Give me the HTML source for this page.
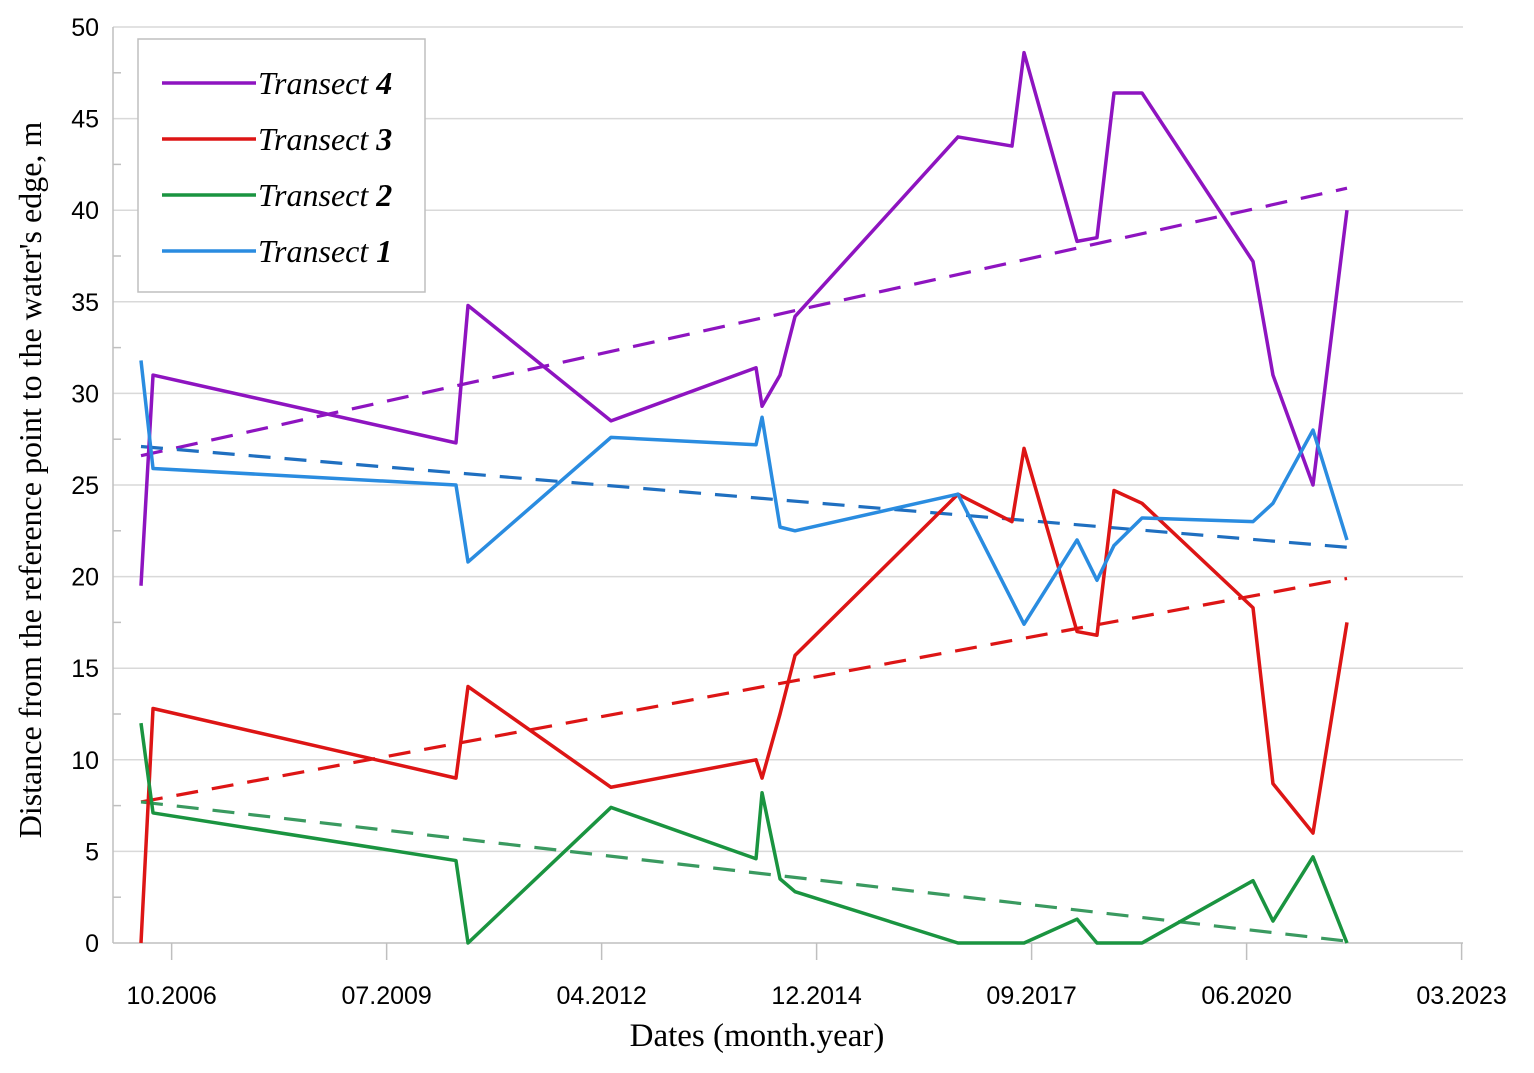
<!DOCTYPE html>
<html><head><meta charset="utf-8"><style>
body{margin:0;background:#fff}
svg text{font-family:"Liberation Sans",sans-serif}
</style></head><body>
<svg id="c" width="1534" height="1068" xmlns="http://www.w3.org/2000/svg"></svg>
<script>
const dates=[2006.358,2006.512,2010.387,2010.541,2012.370,2014.225,2014.302,2014.532,2014.724,2016.808,2017.499,2017.653,2018.331,2018.586,2018.804,2019.162,2020.582,2020.837,2021.349,2021.784];
const t4=[19.5,31,27.3,34.8,28.5,31.4,29.3,31,34.2,44,43.5,48.6,38.3,38.5,46.4,46.4,37.2,31,25,40];
const t3=[0,12.8,9,14,8.5,10,9,12.5,15.7,24.5,23,27,17,16.8,24.7,24,18.3,8.7,6,17.5];
const t2=[12,7.1,4.5,0,7.4,4.6,8.2,3.5,2.8,0,0,0,1.3,0,0,0,3.4,1.2,4.7,0];
const t1=[31.8,25.9,25,20.8,27.6,27.2,28.7,22.7,22.5,24.5,18.7,17.4,22,19.8,21.7,23.2,23,24,28,22];
const trendStart=[26.6,7.7,7.7,27.1];
const trendEnd=[41.2,19.9,0.1,21.6];
const xTickLabels=["10.2006","07.2009","04.2012","12.2014","09.2017","06.2020","03.2023"];
const xTickDates=[2006.75,2009.5,2012.25,2015.0,2017.75,2020.5,2023.25];
const yTicks=[0,5,10,15,20,25,30,35,40,45,50];
const NS="http://www.w3.org/2000/svg",svg=document.getElementById('c');
const X0=113,X1=1463,Y0=943,Y1=27;
const xs=d=>X0+(d-2006.0)*78.18, ys=v=>Y0-(v/50)*(Y0-Y1);
function mk(t,a,p){const e=document.createElementNS(NS,t);for(const k in a)e.setAttribute(k,a[k]);(p||svg).appendChild(e);return e;}
yTicks.forEach(v=>{
 const g=mk('line',{x1:X0,x2:X1,y1:ys(v),y2:ys(v),stroke:v?'#d9d9d9':'#bfbfbf','stroke-width':1.5});
 
 
 const t=mk('text',{x:99,y:ys(v)+9,'text-anchor':'end','font-size':25,fill:'#000'});t.textContent=v;
 
 
 if(v<50){const m=mk('line',{x1:X0,x2:X0+8,y1:ys(v+2.5),y2:ys(v+2.5),stroke:'#bfbfbf','stroke-width':1.5});
 
 }
});
const ax=mk('line',{x1:X0,x2:X0,y1:Y1,y2:Y0,stroke:'#bfbfbf','stroke-width':1.5});


xTickDates.forEach((d,i)=>{
 const l=mk('line',{x1:xs(d),x2:xs(d),y1:Y0,y2:Y0+17,stroke:'#bfbfbf','stroke-width':1.5});
 
 
 const t=mk('text',{x:xs(d),y:1004,'text-anchor':'middle','font-size':25});t.textContent=xTickLabels[i];
 
 
});
const series=[[t4,'#8e14c0'],[t3,'#dd1515'],[t2,'#1a9440'],[t1,'#2a8ce0']];
const trendCol=['#8e14c0','#dd1515','#3a9a60','#1f6fc0'];
series.forEach((s,i)=>{
 const tr=mk('line',{x1:xs(dates[0]),y1:ys(trendStart[i]),x2:xs(dates[dates.length-1]),y2:ys(trendEnd[i]),stroke:trendCol[i],'stroke-width':3.2,'stroke-dasharray':'22 14'});
 
 
});
series.forEach((s,i)=>{
 const p=mk('polyline',{points:s[0].map((v,j)=>xs(dates[j])+','+ys(v)).join(' '),fill:'none',stroke:s[1],'stroke-width':3.5,'stroke-linejoin':'round'});
 
 
});
const lg=mk('g',{});


mk('rect',{x:138,y:39,width:287,height:253,fill:'#fff',stroke:'#bfbfbf','stroke-width':1.5},lg);
series.forEach((s,i)=>{
 const y=83+i*56;
 const l=mk('line',{x1:162,x2:256,y1:y,y2:y,stroke:s[1],'stroke-width':3.5},lg);
 
 
 const t=mk('text',{x:258,y:y+11,'font-size':32,'font-style':'italic'},lg);
 t.setAttribute('style','font-family:"Liberation Serif",serif');
 t.innerHTML='Transect <tspan font-weight="bold">'+(4-i)+'</tspan>';
 
 
});
const xt=mk('text',{x:757,y:1046,'text-anchor':'middle','font-size':33,style:'font-family:"Liberation Serif",serif'});
xt.textContent='Dates (month.year)';


const yt=mk('text',{x:0,y:0,'text-anchor':'middle','font-size':32,transform:'translate(41,480) rotate(-90)',style:'font-family:"Liberation Serif",serif'});
yt.textContent="Distance from the reference point to the water's edge, m";


</script>
</body></html>
